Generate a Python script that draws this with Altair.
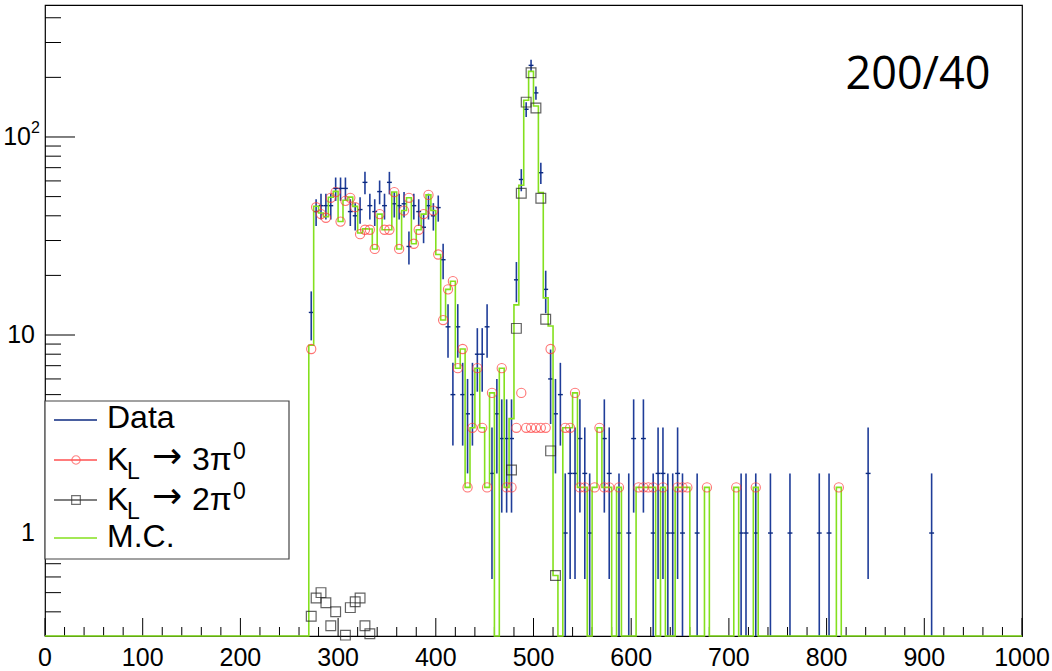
import math
import altair as alt
import pandas as pd

# ---------------- data ----------------
BIN_W = 5
Y_MIN, Y_MAX = 0.302, 464.0

data_bins = [270, 275, 280, 285, 290, 295, 300, 305, 310, 315, 320, 325, 330, 335, 340,
             345, 350, 355, 360, 365, 370, 375, 380, 385, 390, 395, 400, 405, 410, 415,
             420, 425, 430, 435, 440, 445, 450, 455, 460, 465, 470, 475, 480, 485, 490,
             495, 500, 505, 510, 515, 520, 525, 530, 535, 540, 545, 550, 555, 570, 575,
             585, 595, 600, 610, 620, 625, 630, 635, 640, 645, 650, 665, 710, 715, 725,
             740, 760, 790, 800, 840, 905]
data_counts = [13, 42, 45, 45, 45, 55, 55, 55, 42, 40, 43, 59, 45, 42, 53,
               45, 59, 46, 45, 46, 28, 45, 42, 35, 45, 40, 44, 24, 11, 5,
               11, 5, 4, 5, 8, 8, 11, 2, 4, 3, 3, 3, 19, 61, 138,
               230, 167, 66, 17, 6, 4, 5, 1, 2, 2, 3, 2, 1, 3, 2,
               1, 1, 3, 3, 1, 2, 2, 1, 1, 2, 1, 1, 1, 1, 1,
               1, 1, 1, 1, 2, 1]

k3pi_bins = [270, 275, 280, 285, 290, 295, 300, 305, 310, 315, 320, 325, 330, 335, 340,
             345, 350, 355, 360, 365, 370, 375, 380, 385, 390, 395, 400, 405, 410, 415,
             420, 425, 430, 435, 440, 445, 450, 455, 465, 470, 475, 480, 485, 490, 495,
             500, 505, 510, 515, 530, 535, 540, 545, 550, 560, 565, 570, 575, 585, 605,
             610, 615, 620, 630, 645, 650, 655, 675, 705, 725, 810]
k3pi_vals = [8.5, 44.2, 40.8, 39.1, 49.3, 52.7, 37.4, 47.6, 49.3, 44.2, 32.3, 34.0, 34.0, 27.2, 40.8,
             34.0, 34.0, 52.7, 27.2, 42.5, 49.3, 28.9, 34.0, 40.8, 51.0, 42.5, 25.5, 11.9, 17.0, 18.7,
             6.8, 8.5, 1.7, 3.4, 6.8, 3.4, 1.7, 5.1, 6.8, 1.7, 1.7, 3.4, 5.1, 3.4, 3.4,
             3.4, 3.4, 3.4, 8.5, 3.4, 3.4, 5.1, 1.7, 1.7, 1.7, 3.4, 1.7, 1.7, 1.7, 1.7,
             1.7, 1.7, 1.7, 1.7, 1.7, 1.7, 1.7, 1.7, 1.7, 1.7, 1.7]

k2pi_bins = [270, 275, 280, 285, 290, 295, 305, 310, 315, 320, 325, 330,
             475, 480, 485, 490, 495, 500, 505, 510, 515, 520]
k2pi_vals = [0.38, 0.47, 0.50, 0.445, 0.34, 0.40, 0.305, 0.42, 0.45, 0.47, 0.34, 0.31,
             2.08, 10.8, 52.0, 150.0, 211.0, 140.0, 49.0, 12.0, 2.6, 0.61]

x_tick_values = [0, 100, 200, 300, 400, 500, 600, 700, 800, 900, 1000]
x_tick_labels = ["0", "100", "200", "300", "400", "500", "600", "700", "800", "900", "1000"]
y_major_values = [1, 10, 100]
y_minor_values = [0.4, 0.5, 0.6, 0.7, 0.8, 0.9, 2, 3, 4, 5, 6, 7, 8, 9,
                  20, 30, 40, 50, 60, 70, 80, 90, 200, 300, 400]
x_minor_values = [v for v in range(0, 1001, 20) if v % 100 != 0]

# ---------------- styling ----------------
W, H = 977, 631
BLUE = "#1f3d99"
RED = "#ff3a3a"
GREY = "#222222"
GREEN = "#84e01e"
FONT = "Liberation Sans"

xs = alt.Scale(domain=[0, 1000], nice=False, zero=False)
ys = alt.Scale(type="log", domain=[Y_MIN, Y_MAX], nice=False, clamp=True)

# ---------------- tables ----------------
df_data = pd.DataFrame({"b": data_bins, "n": data_counts})
df_data["xc"] = df_data["b"] + BIN_W / 2
df_data["x0"] = df_data["b"]
df_data["x1"] = df_data["b"] + BIN_W
df_data["lo"] = [max(n - math.sqrt(n), Y_MIN) for n in df_data["n"]]
df_data["hi"] = [n + math.sqrt(n) for n in df_data["n"]]

df_k3 = pd.DataFrame({"b": k3pi_bins, "v": k3pi_vals})
df_k3["xc"] = df_k3["b"] + BIN_W / 2
df_k2 = pd.DataFrame({"b": k2pi_bins, "v": k2pi_vals})
df_k2["xc"] = df_k2["b"] + BIN_W / 2

# M.C. = K_L -> 3pi0 + K_L -> 2pi0 (drawn as histogram steps)
mc = {}
for b, v in zip(k3pi_bins, k3pi_vals):
    mc[b] = mc.get(b, 0) + v
for b, v in zip(k2pi_bins, k2pi_vals):
    mc[b] = mc.get(b, 0) + v
mc_x, mc_y = [], []
for b in range(0, 1000, BIN_W):
    mc_x.append(b)
    mc_y.append(max(mc.get(b, 0), Y_MIN))
mc_x.append(1000)
mc_y.append(mc_y[-1])
df_mc = pd.DataFrame({"x": mc_x, "y": mc_y})

# ---------------- layers ----------------
def xq(f):
    return alt.X(f, scale=xs, axis=None)

def yq(f):
    return alt.Y(f, scale=ys, axis=None)

x_major = alt.Chart(pd.DataFrame({"v": x_tick_values})).mark_rule(color="black", strokeWidth=1).encode(
    x=xq("v:Q"), y=alt.value(H - 18), y2=alt.value(H))
x_minor = alt.Chart(pd.DataFrame({"v": x_minor_values})).mark_rule(color="black", strokeWidth=1).encode(
    x=xq("v:Q"), y=alt.value(H - 9), y2=alt.value(H))
y_major = alt.Chart(pd.DataFrame({"v": y_major_values})).mark_rule(color="black", strokeWidth=1).encode(
    y=yq("v:Q"), x=alt.value(0), x2=alt.value(30))
y_minor = alt.Chart(pd.DataFrame({"v": y_minor_values})).mark_rule(color="black", strokeWidth=1).encode(
    y=yq("v:Q"), x=alt.value(0), x2=alt.value(16))

err_v = alt.Chart(df_data).mark_rule(color=BLUE, strokeWidth=1.6).encode(
    x=xq("xc:Q"), y=yq("lo:Q"), y2="hi:Q")
err_h = alt.Chart(df_data).mark_rule(color="#0c2a80", strokeWidth=1.4).encode(
    x=xq("x0:Q"), x2="x1:Q", y=yq("n:Q"))

mc_line = alt.Chart(df_mc).mark_line(interpolate="step-after", color=GREEN, strokeWidth=1.6).encode(
    x=xq("x:Q"), y=yq("y:Q"))

k3_pts = alt.Chart(df_k3).mark_point(shape="circle", filled=False, color=RED, size=85, strokeWidth=1.1).encode(
    x=xq("xc:Q"), y=yq("v:Q"))
k2_pts = alt.Chart(df_k2).mark_point(shape="square", filled=False, color=GREY, size=95, strokeWidth=1.2).encode(
    x=xq("xc:Q"), y=yq("v:Q"))

x_labels = alt.Chart(pd.DataFrame({"v": x_tick_values, "t": x_tick_labels})).mark_text(
    font=FONT, fontSize=25, align="center", baseline="alphabetic", color="black").encode(
    x=xq("v:Q"), y=alt.value(H + 30), text="t:N")

y_lab_df = pd.DataFrame({"v": [1, 10], "t": ["1", "10"]})
y_labels = alt.Chart(y_lab_df).mark_text(
    font=FONT, fontSize=25, align="right", baseline="middle", color="black").encode(
    y=yq("v:Q"), x=alt.value(-10), text="t:N")
y_lab100 = alt.Chart(pd.DataFrame({"v": [100], "t": ["10"]})).mark_text(
    font=FONT, fontSize=25, align="right", baseline="middle", color="black").encode(
    y=yq("v:Q"), x=alt.value(-14), text="t:N")
y_lab100sup = alt.Chart(pd.DataFrame({"v": [100], "t": ["2"]})).mark_text(
    font=FONT, fontSize=16, align="left", baseline="middle", color="black", dy=-9).encode(
    y=yq("v:Q"), x=alt.value(-14), text="t:N")


def txt(s, x, y, size=32, align="left", font=FONT, color="black"):
    return alt.Chart(pd.DataFrame({"a": [0]})).mark_text(
        font=font, fontSize=size, align=align, baseline="alphabetic", color=color).encode(
        x=alt.value(x), y=alt.value(y), text=alt.value(s))


def seg(x1, x2, y, color):
    return alt.Chart(pd.DataFrame({"a": [0]})).mark_rule(color=color, strokeWidth=1.4).encode(
        x=alt.value(x1), x2=alt.value(x2), y=alt.value(y))


legend_box = alt.Chart(pd.DataFrame({"a": [0]})).mark_rect(
    fill="white", stroke="#444444", strokeWidth=1.2).encode(
    x=alt.value(0), x2=alt.value(244), y=alt.value(396), y2=alt.value(554))

ARROW = "\u2192"
leg_items = [
    seg(9, 52, 415, "#0c2a80"),
    txt("Data", 62, 423),
    seg(9, 52, 455, "#ff5050"),
    alt.Chart(pd.DataFrame({"a": [0]})).mark_point(shape="circle", filled=False, color="#ff5050", size=70, strokeWidth=1.1).encode(
        x=alt.value(31), y=alt.value(455)),
    txt("K", 62, 465),
    txt("L", 82, 474, size=23),
    txt(ARROW, 107, 463, size=36, font="DejaVu Sans"),
    txt("3\u03c0", 147, 465),
    txt("0", 188, 454, size=23),
    seg(9, 52, 495, "#555555"),
    alt.Chart(pd.DataFrame({"a": [0]})).mark_point(shape="square", filled=False, color="#333333", size=75, strokeWidth=1.2).encode(
        x=alt.value(31), y=alt.value(495)),
    txt("K", 62, 505),
    txt("L", 82, 514, size=23),
    txt(ARROW, 107, 503, size=36, font="DejaVu Sans"),
    txt("2\u03c0", 147, 505),
    txt("0", 188, 494, size=23),
    seg(9, 52, 533, GREEN),
    txt("M.C.", 62, 542),
]

title_txt = txt("200/40", 873, 84, size=45, align="center", font="Open Sans")

chart = alt.layer(
    x_minor, x_major, y_minor, y_major,
    err_v, err_h, mc_line, k3_pts, k2_pts,
    legend_box, *leg_items,
    x_labels, y_labels, y_lab100, y_lab100sup, title_txt,
).properties(
    width=W, height=H,
    autosize=alt.AutoSizeParams(type="none"),
    padding={"left": 45, "top": 5, "right": 30, "bottom": 35},
    background="white",
).configure_view(stroke="black", strokeWidth=1.2)

chart.save("out.html", embed_options={"renderer": "svg", "actions": False})
